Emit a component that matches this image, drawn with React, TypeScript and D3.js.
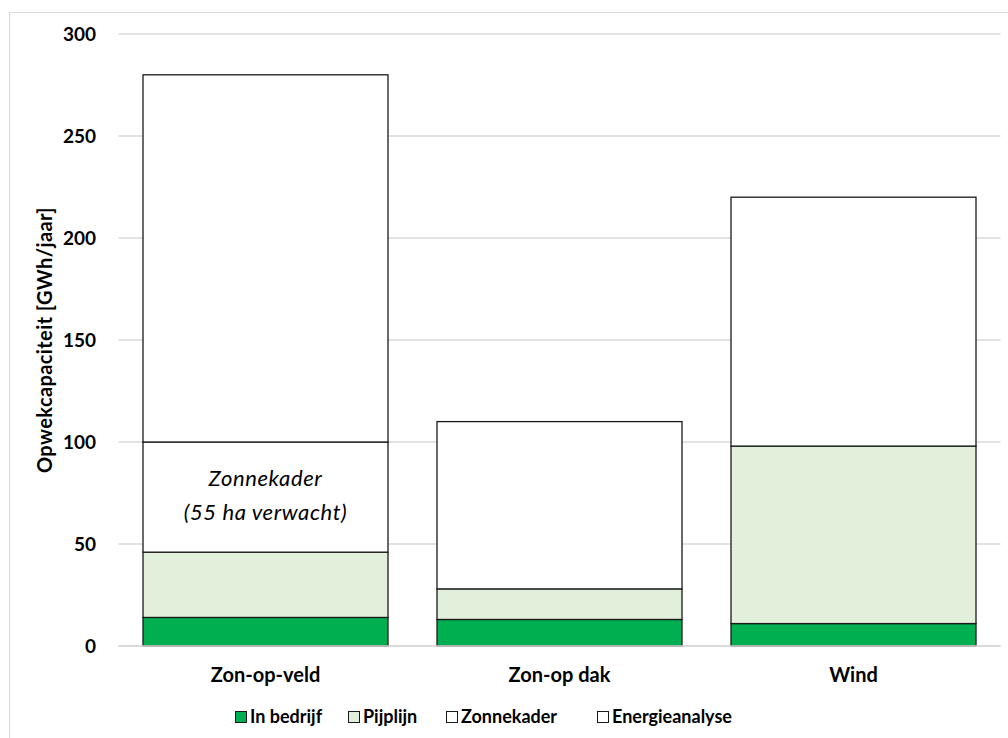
import React from "react";
import * as d3 from "d3";

// Opwekcapaciteit per bron, gestapeld per status (GWh/jaar)
const categories = ["Zon-op-veld", "Zon-op dak", "Wind"];
const seriesNames = ["In bedrijf", "Pijplijn", "Zonnekader", "Energieanalyse"];
const inBedrijf = [14, 13, 11];
const pijplijn = [32, 15, 87];
const zonnekader = [54, 0, 0];
const energieanalyse = [180, 82, 122];
const yTicks = [0, 50, 100, 150, 200, 250, 300];
const seriesColors = ["#00b050", "#e2efda", "#ffffff", "#ffffff"];

const W = 1008;
const H = 738;
const margin = { left: 118.5, right: 7.5, top: 34, bottom: 92 };
const FONT = "Lato, 'Open Sans', sans-serif";

export default function App() {
  const rows = categories.map((c, i) => ({
    cat: c,
    "In bedrijf": inBedrijf[i],
    Pijplijn: pijplijn[i],
    Zonnekader: zonnekader[i],
    Energieanalyse: energieanalyse[i],
  }));
  const stacked = d3.stack<any>().keys(seriesNames)(rows);

  const x = d3
    .scaleBand<string>()
    .domain(categories)
    .range([margin.left, W - margin.right])
    .paddingInner(49 / 294)
    .paddingOuter(49 / 294 / 2);
  const y = d3
    .scaleLinear()
    .domain([0, 300])
    .range([H - margin.bottom, margin.top]);

  const legendItems = [
    { name: seriesNames[0], color: seriesColors[0], sx: 235, tx: 250 },
    { name: seriesNames[1], color: seriesColors[1], sx: 348, tx: 363 },
    { name: seriesNames[2], color: seriesColors[2], sx: 446, tx: 461 },
    { name: seriesNames[3], color: seriesColors[3], sx: 597, tx: 612 },
  ];

  const zonCenter = x(categories[0])! + x.bandwidth() / 2;

  return (
    <svg
      width={W}
      height={H}
      style={{ position: "absolute", left: 0, top: 0, background: "#fff" }}
      fontFamily={FONT}
    >
      <rect x={9.5} y={12.5} width={1010} height={740} fill="#fff" stroke="#d9d9d9" strokeWidth={1} />
      {/* rasterlijnen */}
      {yTicks.map((t) => (
        <g key={t}>
          <line
            x1={margin.left}
            x2={W - margin.right}
            y1={y(t)}
            y2={y(t)}
            stroke="#d9d9d9"
            strokeWidth={1.5}
          />
          <text
            x={96}
            y={y(t)}
            dy="0.36em"
            textAnchor="end"
            fontSize={19}
            fontWeight="bold"
            fill="#000"
          >
            {t}
          </text>
        </g>
      ))}
      {/* gestapelde staven */}
      {stacked.map((layer, si) => (
        <g key={layer.key}>
          {layer.map((d, i) =>
            d[1] - d[0] > 0 ? (
              <rect
                key={i}
                x={x(categories[i])!}
                y={y(d[1])}
                width={x.bandwidth()}
                height={y(d[0]) - y(d[1])}
                fill={seriesColors[si]}
                stroke="#1a1a1a"
                strokeWidth={1.3}
              />
            ) : null
          )}
        </g>
      ))}
      <line
        x1={margin.left}
        x2={W - margin.right}
        y1={y(0)}
        y2={y(0)}
        stroke="#d9d9d9"
        strokeWidth={1.5}
      />
      {/* toelichting zonnekader */}
      <text x={zonCenter} y={486} textAnchor="middle" fontSize={22} letterSpacing={0.6} fontStyle="italic" fill="#000">
        Zonnekader
      </text>
      <text x={zonCenter} y={520} textAnchor="middle" fontSize={22} letterSpacing={0.6} fontStyle="italic" fill="#000">
        (55 ha verwacht)
      </text>
      {/* categorie-labels */}
      {categories.map((c) => (
        <text
          key={c}
          x={x(c)! + x.bandwidth() / 2}
          y={682}
          textAnchor="middle"
          fontSize={20}
          fontWeight="bold"
          fill="#000"
        >
          {c}
        </text>
      ))}
      {/* y-as titel */}
      <text
        transform={`translate(52,340) rotate(-90)`}
        textAnchor="middle"
        fontSize={20}
        letterSpacing={0.4}
        fontWeight="bold"
        fill="#000"
      >
        Opwekcapaciteit [GWh/jaar]
      </text>
      {/* legenda */}
      {legendItems.map((l) => (
        <g key={l.name}>
          <rect x={l.sx + 0.5} y={711.5} width={11} height={11} fill={l.color} stroke="#1a1a1a" strokeWidth={1} />
          <text x={l.tx} y={723} fontSize={18} fontWeight="bold" fill="#000">
            {l.name}
          </text>
        </g>
      ))}
    </svg>
  );
}
